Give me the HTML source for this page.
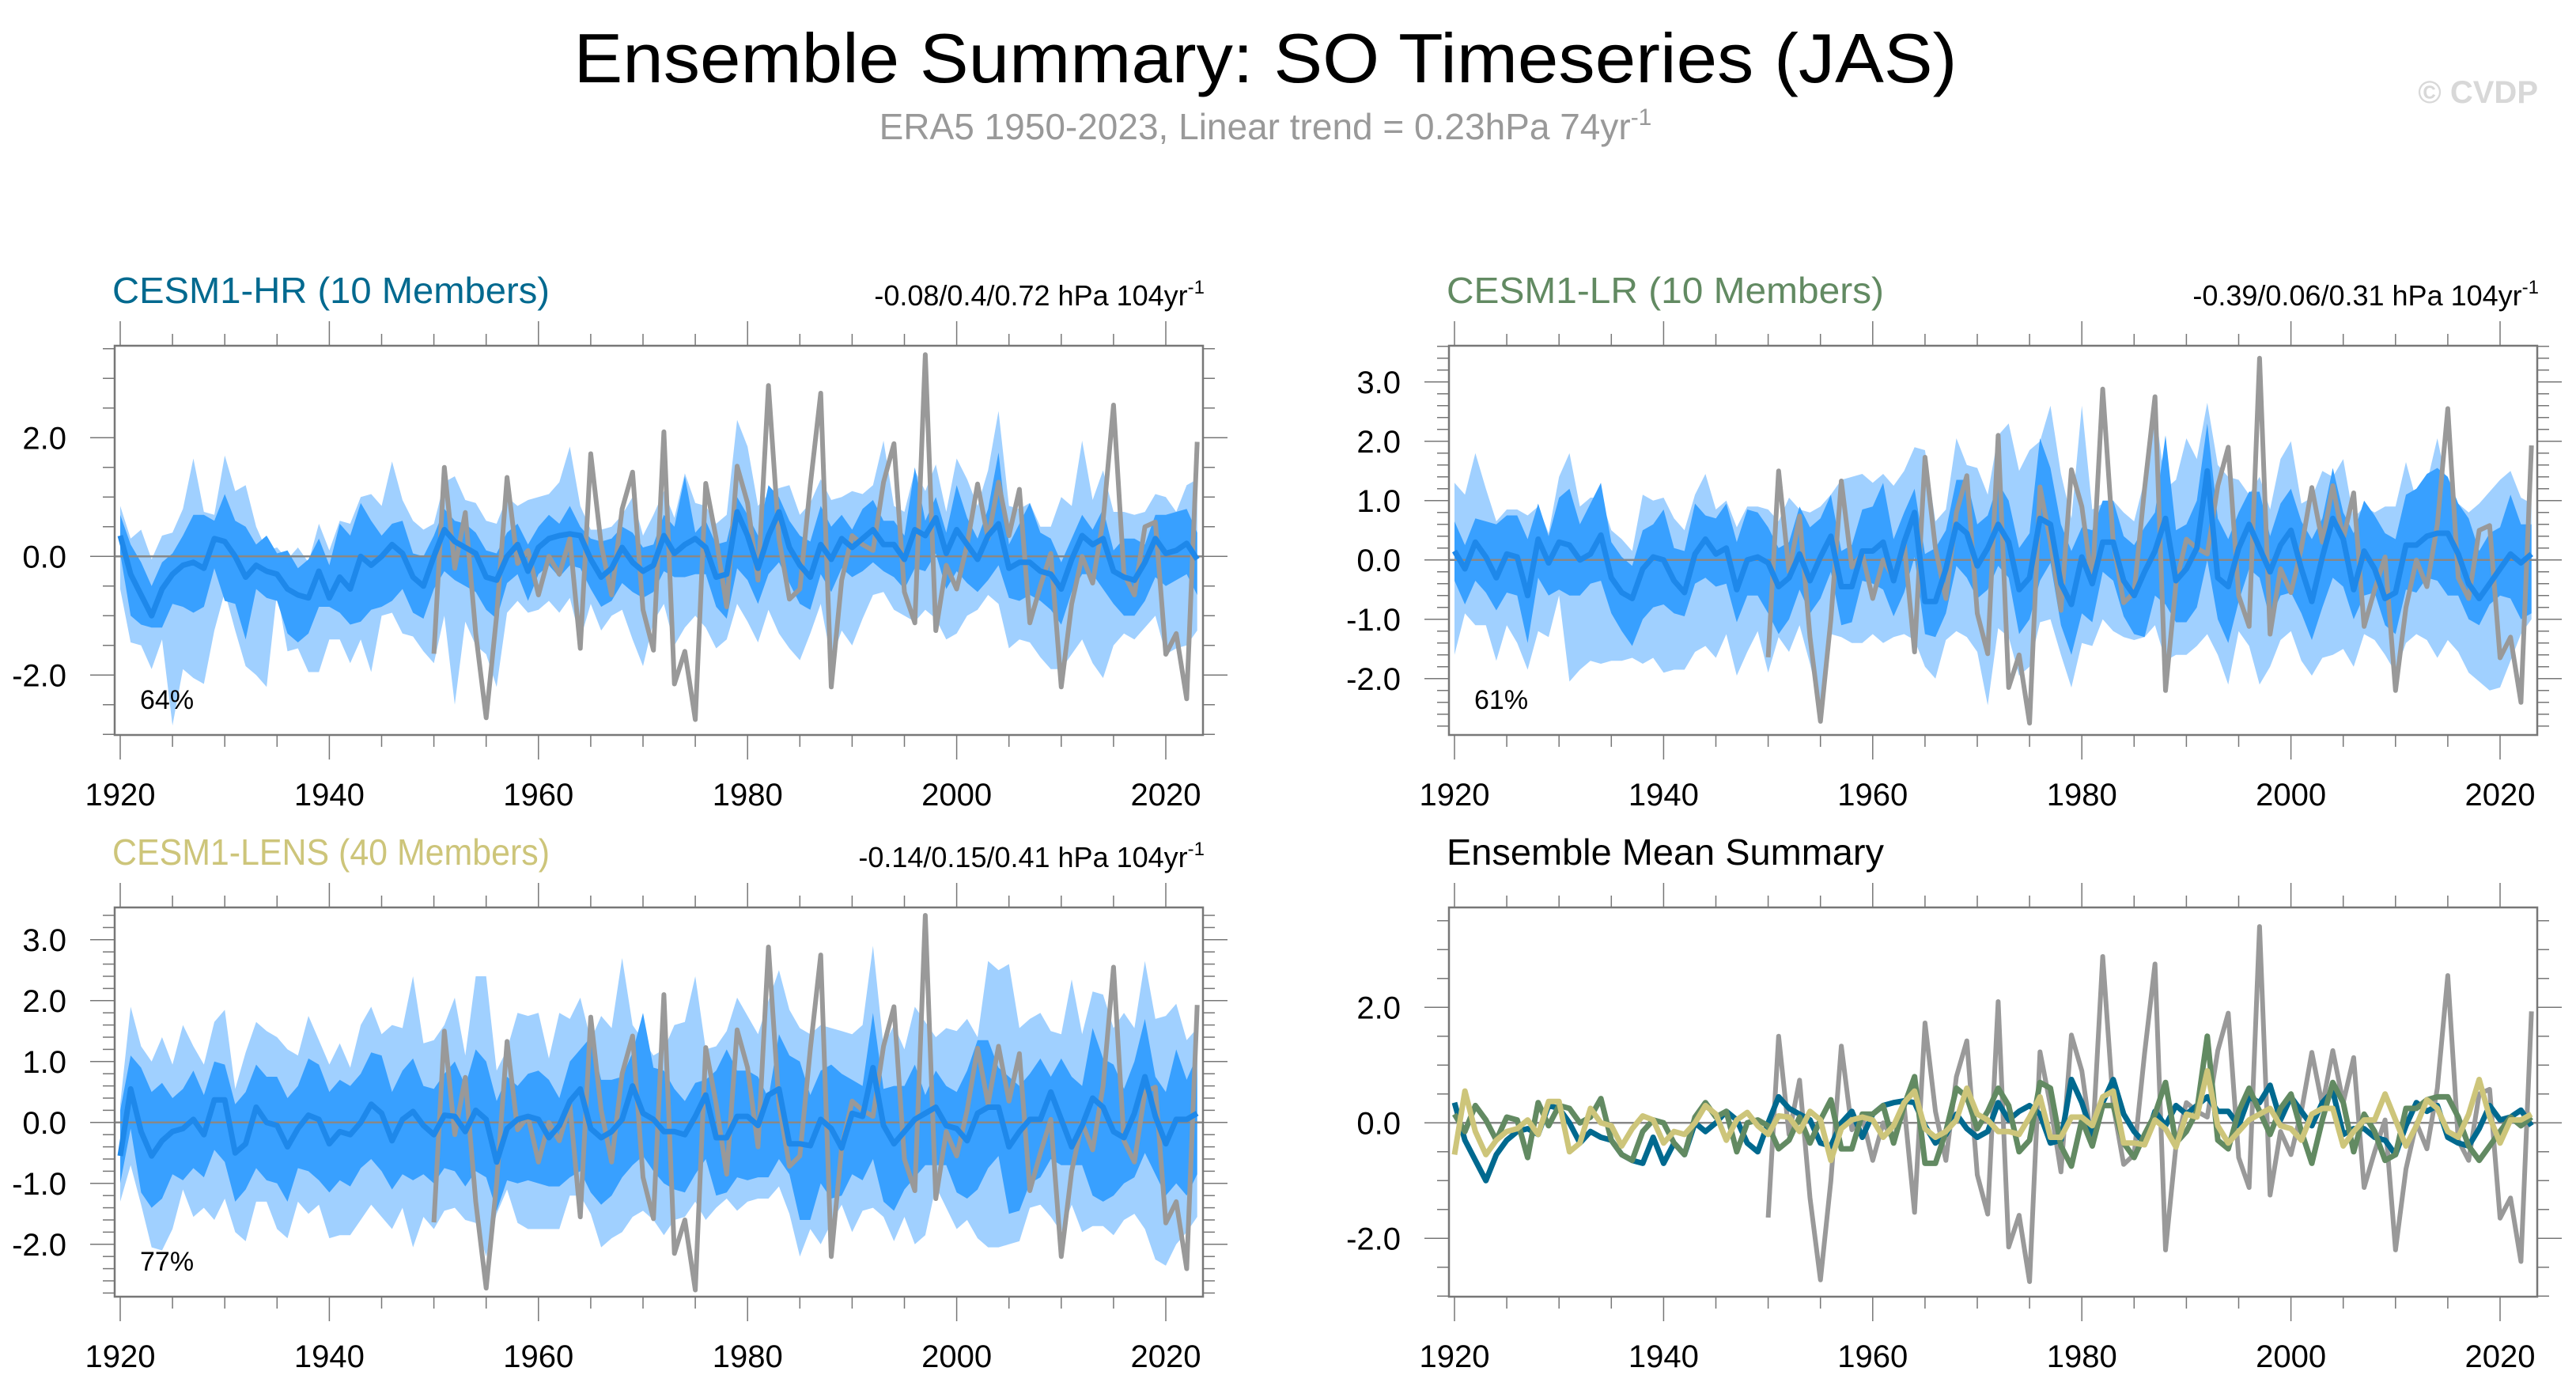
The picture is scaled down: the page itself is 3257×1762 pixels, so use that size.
<!DOCTYPE html>
<html><head><meta charset="utf-8"><style>
html,body{margin:0;padding:0;background:#fff;}
svg{display:block;font-family:"Liberation Sans",sans-serif;}
</style></head><body>
<svg id="chart" width="3257" height="1762" viewBox="0 0 3257 1762" xmlns="http://www.w3.org/2000/svg">
<rect x="0" y="0" width="3257" height="1762" fill="#fff"/>
<text x="1600" y="104" font-size="88" text-anchor="middle" textLength="1749" lengthAdjust="spacingAndGlyphs" fill="#000">Ensemble Summary: SO Timeseries (JAS)</text>
<text x="1600" y="176" font-size="46" text-anchor="middle" fill="#999">ERA5 1950-2023, Linear trend = 0.23hPa 74yr<tspan font-size="30" dy="-18">-1</tspan></text>
<text x="3209" y="130" font-size="40" font-weight="bold" text-anchor="end" fill="#d8d8d8">© CVDP</text>
<g id="panels"></g>
</svg>
<script>
const years = [];
for (let y = 1920; y <= 2023; y++) years.push(y);
const obsYears = [];
for (let y = 1950; y <= 2023; y++) obsYears.push(y);
const era5 = [-1.64,1.5,-0.2,0.74,-1.3,-2.72,-1.0,1.33,-0.12,0.1,
-0.65,0.0,-0.3,0.3,-1.55,1.73,0.2,-0.65,0.8,1.42,
-0.9,-1.58,2.1,-2.15,-1.6,-2.75,1.23,0.3,-0.85,1.52,
0.9,-0.4,2.88,0.3,-0.72,-0.55,1.2,2.75,-2.2,-0.4,
0.35,0.2,0.1,1.25,1.9,-0.6,-1.12,3.4,-1.25,-0.15,
-0.55,0.2,1.22,0.3,1.25,0.35,1.13,-1.12,-0.5,0.05,
-2.2,-0.8,0.0,-0.45,0.6,2.55,-0.3,-0.65,0.5,0.58,
-1.65,-1.3,-2.4,1.93];
const hrMean = [0.35,-0.3,-0.65,-1.0,-0.55,-0.3,-0.15,-0.1,-0.2,0.3,
0.25,0.0,-0.35,-0.15,-0.25,-0.3,-0.55,-0.65,-0.7,-0.25,
-0.7,-0.35,-0.55,0.0,-0.15,0.0,0.2,0.05,-0.35,-0.5,
0.0,0.45,0.25,0.15,0.05,-0.35,-0.4,0.0,0.2,-0.25,
0.15,0.3,0.35,0.38,0.35,-0.05,-0.35,-0.2,0.15,-0.1,
-0.25,-0.15,0.35,0.05,0.2,0.3,0.15,-0.35,-0.3,0.75,
0.35,-0.2,0.35,0.75,0.15,-0.15,-0.35,0.2,-0.05,0.3,
0.15,0.3,0.45,0.2,0.2,-0.05,0.45,0.35,0.65,0.05,
0.45,0.2,-0.05,0.35,0.55,-0.2,-0.1,-0.1,-0.25,-0.3,
-0.55,-0.05,0.35,0.2,0.3,-0.25,-0.35,-0.4,-0.1,0.3,
0.05,0.1,0.22,-0.05];
const hrInnerHi = [0.7,0.2,-0.1,-0.5,-0.1,0.05,0.35,0.7,0.7,0.6,
1.05,0.6,0.5,0.2,0.35,0.05,0.1,-0.2,-0.05,0.3,
-0.15,0.55,0.35,0.9,0.6,0.35,0.55,0.6,0.05,0.0,
0.35,0.8,0.6,0.55,0.4,0.1,0.05,0.4,0.55,0.2,
0.5,0.7,0.55,0.85,0.5,0.3,0.25,0.3,0.5,0.4,
0.15,0.2,0.7,0.5,1.35,0.4,0.6,0.2,0.25,1.0,
0.7,0.35,1.2,1.0,0.6,0.35,0.25,0.85,0.5,0.7,
0.45,0.8,0.95,0.6,0.6,0.35,1.5,0.6,1.0,0.4,
1.2,0.65,0.3,0.8,1.75,0.2,0.55,0.9,0.4,0.3,
-0.1,0.3,0.7,0.45,0.8,0.1,0.3,0.3,0.2,0.7,
0.7,0.75,0.8,0.4];
const hrInnerLo = [0.05,-1.0,-1.15,-1.2,-1.2,-0.8,-0.85,-0.95,-0.85,-0.2,
-0.75,-0.8,-1.4,-0.55,-0.7,-0.75,-1.3,-1.45,-1.3,-0.85,
-0.85,-0.95,-1.15,-1.1,-0.9,-0.85,-0.75,-0.55,-0.95,-1.05,
-0.55,-0.25,-0.4,-0.5,-0.6,-0.9,-1.05,-0.45,-0.3,-0.75,
-0.3,-0.15,-0.35,-0.15,-0.2,-0.55,-0.85,-0.75,-0.45,-0.6,
-0.7,-0.6,-0.25,-0.35,-0.35,-0.3,-0.3,-0.85,-1.05,-0.2,
-0.4,-0.8,-0.3,-0.1,-0.45,-0.8,-0.9,-0.3,-0.6,-0.2,
-0.35,-0.25,-0.1,-0.25,-0.35,-0.55,-0.2,-0.25,0.05,-0.55,
-0.25,-0.45,-0.6,-0.4,-0.15,-0.7,-0.75,-0.65,-0.75,-0.9,
-1.15,-0.6,-0.3,-0.3,-0.55,-0.8,-1.0,-1.0,-0.75,-0.35,
-0.5,-0.4,-0.3,-0.65];
const hrOuterHi = [0.85,0.3,0.45,-0.05,0.35,0.4,0.8,1.65,0.75,0.7,
1.7,1.1,1.2,0.5,0.1,0.15,-0.05,0.15,-0.1,0.55,
0.1,0.6,0.55,1.0,1.05,0.85,1.6,0.95,0.6,0.45,
0.55,1.25,1.35,0.95,0.9,0.6,0.55,1.0,0.85,0.95,
1.0,1.05,1.25,1.85,0.85,0.45,0.45,0.5,0.7,1.0,
0.35,0.7,1.1,0.65,1.4,0.9,0.85,0.55,0.7,2.3,
1.85,0.85,1.05,1.15,1.2,0.7,0.9,1.3,0.95,1.0,
1.1,1.05,1.2,1.95,0.85,0.75,1.45,1.1,1.55,0.75,
1.65,1.3,0.85,1.45,2.45,0.85,0.8,0.9,0.5,0.5,
1.0,0.85,1.95,0.95,1.45,0.75,0.75,0.7,0.75,1.05,
1.0,0.75,1.2,1.3];
const hrOuterLo = [-0.55,-1.45,-1.5,-1.9,-1.4,-2.85,-1.9,-2.05,-2.15,-1.25,
-0.6,-1.25,-1.85,-2.0,-2.2,-0.6,-1.6,-1.55,-1.95,-1.95,
-1.4,-1.4,-1.8,-1.4,-1.95,-1.0,-0.95,-1.3,-1.35,-1.6,
-1.8,-1.0,-2.5,-1.1,-1.5,-1.65,-2.2,-0.95,-0.75,-0.95,
-0.9,-0.75,-0.95,-0.7,-1.4,-0.8,-1.25,-1.0,-0.9,-1.4,
-1.85,-1.1,-0.8,-1.5,-1.2,-1.0,-1.2,-1.55,-1.4,-0.8,
-1.1,-1.45,-0.9,-1.3,-1.55,-1.75,-1.3,-0.8,-1.75,-1.25,
-1.5,-1.05,-0.65,-0.6,-0.9,-1.0,-1.1,-0.9,-1.05,-1.4,
-1.3,-1.0,-0.9,-0.65,-0.8,-1.55,-1.4,-1.45,-1.7,-1.9,
-1.9,-1.65,-1.4,-1.8,-2.05,-1.5,-1.3,-1.4,-1.2,-1.0,
-1.65,-1.55,-1.5,-1.25];
const lrMean = [0.15,-0.15,0.3,0.05,-0.3,0.1,0.05,-0.6,0.35,-0.05,
0.3,0.25,0.0,0.1,0.42,-0.3,-0.55,-0.65,-0.15,0.05,
0.0,-0.35,-0.55,0.1,0.35,0.1,0.2,-0.5,0.0,0.05,
-0.05,-0.45,-0.3,0.1,-0.35,0.05,0.4,-0.45,-0.45,0.15,
0.15,0.3,-0.35,0.3,0.8,-0.7,-0.7,-0.15,0.6,0.45,
-0.1,0.2,0.6,0.3,-0.5,-0.3,0.7,0.6,-0.4,-0.75,
0.05,-0.4,0.3,0.3,-0.35,-0.6,-0.2,0.15,0.7,-0.35,
-0.15,0.2,1.5,-0.3,-0.45,0.2,0.6,0.2,-0.2,0.25,
0.5,-0.15,-0.7,0.05,0.7,0.35,-0.5,0.15,-0.15,-0.65,
-0.55,0.25,0.25,0.4,0.45,0.45,0.1,-0.4,-0.65,-0.4,
-0.15,0.1,-0.05,0.1];
const lrInnerHi = [0.65,0.25,0.7,0.65,0.6,0.75,0.75,0.35,0.95,0.4,
1.05,1.2,0.6,0.95,1.3,0.3,0.05,-0.1,0.5,0.6,
0.85,0.2,0.15,0.95,0.75,0.7,0.95,0.3,0.85,0.8,
0.55,0.2,0.3,0.9,0.55,0.7,1.1,0.15,0.25,0.85,
0.9,1.3,0.35,0.8,1.2,0.1,0.2,0.5,1.35,1.35,
0.6,0.75,1.3,1.0,0.2,0.45,2.05,1.55,0.6,0.15,
0.55,0.5,1.0,1.0,0.4,0.25,0.55,0.8,2.1,0.5,
0.6,1.0,2.3,0.7,0.35,0.8,1.15,1.15,0.4,0.95,
1.2,0.65,0.35,0.7,1.55,0.8,0.45,1.0,0.75,0.45,
0.35,1.1,1.2,1.45,1.55,1.4,0.95,0.7,0.15,0.45,
0.55,1.1,0.6,0.6];
const lrInnerLo = [-0.35,-0.75,-0.35,-0.55,-0.85,-0.55,-0.6,-1.4,-0.3,-0.6,
-0.5,-0.6,-0.6,-0.4,-0.35,-0.9,-1.2,-1.45,-1.0,-0.8,
-0.75,-0.9,-0.95,-0.4,-0.3,-0.45,-0.4,-1.05,-0.6,-0.6,
-0.9,-1.25,-1.0,-0.5,-0.9,-0.65,-0.2,-1.1,-1.05,-0.35,
-0.4,-0.5,-0.95,-0.55,0.05,-1.25,-1.3,-0.9,-0.1,-0.3,
-0.65,-0.5,-0.1,-0.3,-1.25,-1.0,-0.35,-0.05,-1.1,-1.6,
-0.9,-1.05,-0.2,-0.35,-0.95,-1.25,-1.3,-0.6,-0.75,-1.05,
-1.05,-0.8,0.0,-1.0,-1.4,-0.7,-0.15,-0.3,-1.0,-0.6,
-0.55,-0.9,-1.35,-0.8,-0.3,-0.45,-1.0,-0.6,-0.55,-1.1,
-1.25,-0.5,-0.55,-0.3,-0.35,-0.6,-0.6,-1.0,-1.1,-0.75,
-0.6,-0.65,-1.0,-0.9];
const lrOuterHi = [1.3,1.1,1.8,1.2,0.65,0.85,0.85,0.75,0.9,0.45,
1.4,1.8,0.9,1.05,1.05,0.5,0.35,0.15,1.1,1.0,
1.05,0.7,0.5,1.1,1.45,0.85,1.0,0.55,0.9,0.9,
0.85,0.65,1.05,0.85,0.8,0.9,1.1,1.35,1.4,1.45,
1.3,1.45,1.25,1.5,1.9,1.85,0.65,0.85,2.05,1.6,
1.55,1.1,2.1,2.3,1.5,1.85,2.0,2.6,1.45,0.7,
2.6,0.85,0.95,1.0,0.8,0.65,1.35,2.6,1.2,1.35,
2.05,1.7,2.65,1.6,1.4,1.35,1.1,1.4,0.85,1.7,
2.0,0.95,1.05,1.5,1.4,1.7,0.7,0.9,0.8,0.9,
0.9,1.65,1.0,1.3,2.05,1.2,0.95,0.8,0.95,1.15,
1.35,1.5,1.05,0.95];
const lrOuterLo = [-1.6,-0.9,-1.1,-1.1,-1.7,-1.1,-1.4,-1.85,-1.2,-1.3,
-0.6,-2.05,-1.85,-1.7,-1.75,-1.7,-1.7,-1.65,-1.75,-1.65,
-1.9,-1.85,-1.85,-1.55,-1.45,-1.65,-1.25,-1.95,-1.55,-1.2,
-1.9,-1.3,-1.55,-1.1,-1.75,-2.5,-1.25,-1.3,-1.4,-1.4,
-1.25,-1.4,-1.3,-1.25,-1.35,-1.8,-2.0,-1.35,-1.2,-1.3,
-1.55,-2.45,-1.15,-1.3,-1.95,-1.8,-1.05,-1.0,-1.6,-2.15,
-1.4,-1.45,-1.0,-1.2,-1.3,-1.35,-1.3,-1.1,-1.7,-1.6,
-1.6,-1.45,-1.25,-1.6,-2.1,-1.2,-1.45,-2.1,-1.8,-1.35,
-1.2,-1.7,-1.95,-1.65,-1.6,-1.5,-1.8,-1.25,-1.35,-1.6,
-1.9,-1.4,-1.25,-1.35,-1.65,-1.35,-1.55,-1.9,-2.05,-2.2,
-2.15,-1.7,-1.25,-1.0];
const lensMean = [-0.55,0.55,-0.15,-0.55,-0.3,-0.15,-0.1,0.05,-0.2,0.37,
0.37,-0.5,-0.35,0.25,0.0,-0.05,-0.4,-0.1,0.12,0.05,
-0.35,-0.15,-0.2,0.0,0.3,0.15,-0.3,0.05,0.18,-0.05,
-0.2,0.12,0.1,-0.15,0.2,0.05,-0.65,-0.1,0.05,0.1,
0.05,-0.25,-0.05,0.35,0.55,-0.1,-0.25,-0.15,0.05,0.6,
0.15,0.05,-0.15,-0.15,-0.2,0.1,0.45,-0.25,-0.25,0.1,
0.1,-0.05,0.45,0.55,-0.35,-0.35,-0.38,0.05,-0.1,-0.42,
0.15,0.1,0.9,-0.05,-0.35,-0.15,0.05,0.15,0.25,-0.05,
-0.1,-0.3,0.15,0.25,0.25,-0.4,-0.15,0.05,0.05,0.5,
0.05,-0.4,-0.05,0.4,0.25,-0.15,-0.25,0.15,0.75,0.1,
-0.35,0.05,0.05,0.15];
const lensInnerHi = [0.2,1.1,0.9,0.5,0.65,0.4,0.55,0.85,0.45,1.0,
0.95,0.3,0.5,0.95,0.75,0.75,0.4,0.6,1.05,0.95,
0.5,0.7,0.6,0.8,1.15,1.1,0.5,0.85,1.05,0.6,
0.55,0.8,1.0,0.6,1.2,1.0,0.35,0.75,0.6,0.8,
0.85,0.7,0.4,1.0,1.2,1.4,0.7,0.7,0.75,1.15,
1.8,0.9,0.85,0.55,0.35,0.65,0.7,0.85,1.2,0.85,
0.85,0.75,0.4,1.45,1.1,1.0,0.45,0.85,0.95,0.8,
0.7,0.6,1.8,0.55,0.6,0.6,0.95,0.45,0.85,0.6,
0.5,0.85,1.35,1.35,0.9,0.75,0.6,0.8,1.05,0.75,
1.05,0.75,0.6,1.55,1.05,0.95,0.55,1.0,1.7,0.75,
0.5,1.2,0.7,1.1];
const lensInnerLo = [-1.0,-0.1,-1.15,-1.4,-1.25,-0.85,-0.95,-0.75,-0.9,-0.45,
-0.65,-1.3,-1.1,-0.75,-0.95,-1.0,-1.3,-0.75,-0.8,-0.95,
-1.15,-0.95,-1.05,-0.75,-0.6,-0.8,-1.1,-0.85,-0.95,-0.85,
-1.0,-0.75,-0.8,-1.05,-0.8,-0.9,-1.45,-0.95,-1.0,-0.95,
-1.0,-1.05,-1.05,-0.9,-0.8,-1.15,-1.35,-1.2,-0.9,-0.7,
-0.55,-0.8,-1.0,-1.1,-1.15,-0.85,-0.6,-1.2,-1.15,-0.9,
-0.95,-0.9,-0.9,-0.6,-0.85,-1.6,-1.6,-1.0,-1.25,-1.2,
-0.85,-0.95,-0.6,-1.3,-1.45,-1.1,-0.9,-0.7,-0.7,-0.7,
-1.15,-1.25,-1.1,-0.75,-0.55,-1.5,-1.45,-1.0,-0.9,-0.6,
-0.7,-0.7,-0.7,-1.2,-1.3,-1.2,-1.0,-0.9,-0.5,-0.85,
-1.2,-1.0,-1.2,-0.85];
const lensOuterHi = [0.3,1.9,1.25,1.0,1.4,0.95,1.6,1.25,0.95,1.65,
1.85,0.55,1.15,1.65,1.5,1.4,1.2,1.1,1.75,1.35,
0.95,1.3,0.9,1.6,1.9,1.45,1.6,1.55,2.4,1.3,
1.35,1.6,2.05,1.1,2.4,2.4,0.85,1.2,1.8,1.75,
1.8,1.05,1.8,1.7,2.05,1.35,1.75,1.55,2.7,1.6,
1.35,1.1,1.2,1.6,1.65,2.4,1.2,1.25,1.5,2.05,
1.75,1.45,2.0,2.5,1.85,1.55,1.45,1.6,1.55,1.5,
1.45,1.6,2.9,1.25,1.6,1.2,1.9,1.65,1.4,1.55,
1.5,1.7,1.4,2.65,2.5,2.6,1.55,1.7,1.8,1.5,
1.45,2.35,1.45,2.15,2.1,1.55,1.8,1.55,2.65,1.7,
1.75,1.95,1.35,1.55];
const lensOuterLo = [-1.3,-0.7,-1.35,-2.05,-2.1,-1.75,-1.1,-1.55,-1.4,-1.6,
-1.25,-1.8,-1.95,-1.3,-1.3,-1.75,-1.9,-1.3,-1.5,-1.35,
-1.9,-1.85,-1.85,-1.6,-1.35,-1.55,-1.75,-1.4,-2.05,-1.55,
-1.75,-1.45,-1.4,-1.6,-1.65,-2.2,-1.5,-1.1,-1.65,-1.75,
-1.75,-1.75,-1.75,-1.2,-1.2,-1.5,-2.05,-1.9,-1.8,-1.55,
-1.45,-1.6,-1.85,-1.6,-1.55,-1.3,-1.6,-1.4,-1.25,-1.45,
-1.3,-1.25,-1.25,-1.05,-1.5,-2.2,-1.75,-2.0,-1.65,-1.35,
-1.8,-1.45,-1.4,-1.55,-1.95,-1.55,-2.0,-1.85,-1.05,-1.4,
-1.75,-1.6,-1.9,-2.05,-2.05,-2.0,-1.95,-1.4,-1.35,-1.55,
-1.8,-1.35,-1.8,-1.7,-1.7,-1.85,-1.6,-1.5,-1.75,-2.25,
-2.35,-2.0,-1.8,-1.55];
const xTickYears = [1920,1940,1960,1980,2000,2020];
const xTickLabels = ["1920","1940","1960","1980","2000","2020"];

const NS = "http://www.w3.org/2000/svg";
const root = document.getElementById("panels");
function mk(tag, attrs, parent) {
  const e = document.createElementNS(NS, tag);
  for (const k in attrs) e.setAttribute(k, attrs[k]);
  (parent || root).appendChild(e);
  return e;
}

const panels = [
 {key:"hr", x0:145, x1:1521, y0:437, y1:929, x1920:152, ymin:-3.01, ymax:3.55, labStep:2, minStep:0.5,
  title:"CESM1-HR (10 Members)", tcolor:"#00698f", stat:"-0.08/0.4/0.72 hPa 104yr", pct:"64%",
  mean:hrMean, iHi:hrInnerHi, iLo:hrInnerLo, oHi:hrOuterHi, oLo:hrOuterLo},
 {key:"lr", x0:1832, x1:3208, y0:437, y1:929, x1920:1839, ymin:-2.95, ymax:3.61, labStep:1, minStep:0.2,
  title:"CESM1-LR (10 Members)", tcolor:"#628a62", stat:"-0.39/0.06/0.31 hPa 104yr", pct:"61%",
  mean:lrMean, iHi:lrInnerHi, iLo:lrInnerLo, oHi:lrOuterHi, oLo:lrOuterLo},
 {key:"lens", x0:145, x1:1521, y0:1147, y1:1639, x1920:152, ymin:-2.86, ymax:3.53, labStep:1, minStep:0.2,
  title:"CESM1-LENS (40 Members)", tcolor:"#cdc57a", stat:"-0.14/0.15/0.41 hPa 104yr", pct:"77%",
  mean:lensMean, iHi:lensInnerHi, iLo:lensInnerLo, oHi:lensOuterHi, oLo:lensOuterLo},
 {key:"summary", x0:1832, x1:3208, y0:1147, y1:1639, x1920:1839, ymin:-3.01, ymax:3.73, labStep:2, minStep:0.5,
  title:"Ensemble Mean Summary", tcolor:"#000", summary:true}
];

panels.forEach(p => {
  const g = mk("g", {});
  
  
  const yrToX = yr => p.x1920 + (yr - 1920) * 13.22;
  const vToY = v => p.y1 - (v - p.ymin) * (p.y1 - p.y0) / (p.ymax - p.ymin);
  const clipId = "clip-" + p.key;
  const cp = mk("clipPath", {id: clipId}, g);
  mk("rect", {x:p.x0, y:p.y0, width:p.x1-p.x0, height:p.y1-p.y0}, cp);
  const plot = mk("g", {"clip-path":"url(#" + clipId + ")"}, g);
  
  

  function band(hi, lo, color, name) {
    let d = "";
    hi.forEach((v,i) => { d += (i ? "L" : "M") + yrToX(years[i]).toFixed(1) + "," + vToY(v).toFixed(1); });
    for (let i = lo.length - 1; i >= 0; i--) d += "L" + yrToX(years[i]).toFixed(1) + "," + vToY(lo[i]).toFixed(1);
    const e = mk("path", {d: d + "Z", fill: color, stroke: "none"}, plot);
    
    
  }
  function line(xs, vals, color, w, name) {
    const pts = vals.map((v,i) => yrToX(xs[i]).toFixed(1) + "," + vToY(v).toFixed(1)).join(" ");
    const e = mk("polyline", {points: pts, fill: "none", stroke: color, "stroke-width": w, "stroke-linejoin": "round"}, plot);
    
    
  }
  if (!p.summary) {
    band(p.oHi, p.oLo, "#a0d0ff", p.key + "-outer-spread-band");
    band(p.iHi, p.iLo, "#38a0ff", p.key + "-inner-spread-band");
  }
  const zl = mk("line", {x1:p.x0, x2:p.x1, y1:vToY(0), y2:vToY(0), stroke:"#888", "stroke-width":2.5}, plot);
  
  
  line(obsYears, era5, "#999", 6, "era5-observed-line");
  if (!p.summary) {
    line(years, p.mean, "#1e88ea", 7, p.key + "-ensemble-mean-line");
  } else {
    line(years, hrMean, "#00698f", 7, "hr-ensemble-mean-line");
    line(years, lrMean, "#628a62", 7, "lr-ensemble-mean-line");
    line(years, lensMean, "#cdc57a", 7, "lens-ensemble-mean-line");
  }
  const fr = mk("rect", {x:p.x0, y:p.y0, width:p.x1-p.x0, height:p.y1-p.y0, fill:"none", stroke:"#777", "stroke-width":2.5}, g);
  
  
  const xt = mk("g", {stroke:"#777", "stroke-width":1.5}, g);
  
  
  for (let yr = 1920; yr <= 2020; yr += 5) {
    const x = yrToX(yr), len = (yr % 20 === 0) ? 31 : 15;
    mk("line", {x1:x, x2:x, y1:p.y0, y2:p.y0 - len}, xt);
    mk("line", {x1:x, x2:x, y1:p.y1, y2:p.y1 + len}, xt);
  }
  xTickYears.forEach((yr,i) => {
    const t = mk("text", {x: yrToX(yr), y: p.y1 + 89, "font-size": 40, "text-anchor": "middle", fill: "#000"}, g);
    t.textContent = xTickLabels[i];
    
    
  });
  const yt = mk("g", {stroke:"#777", "stroke-width":1.5}, g);
  
  
  const n0 = Math.ceil(p.ymin / p.minStep - 1e-6), n1 = Math.floor(p.ymax / p.minStep + 1e-6);
  for (let n = n0; n <= n1; n++) {
    const v = n * p.minStep, y = vToY(v);
    const major = Math.abs(v / p.labStep - Math.round(v / p.labStep)) < 1e-6;
    const len = major ? 31 : 15;
    mk("line", {x1:p.x0, x2:p.x0 - len, y1:y, y2:y}, yt);
    mk("line", {x1:p.x1, x2:p.x1 + len, y1:y, y2:y}, yt);
    if (major) {
      const t = mk("text", {x: p.x0 - 61, y: y + 14, "font-size": 40, "text-anchor": "end", fill: "#000"}, g);
      t.textContent = v.toFixed(1);
      
      
    }
  }
  const tt = mk("text", {x: p.x0 - 3, y: p.y0 - 54, "font-size": 46, fill: p.tcolor, textLength: 553, lengthAdjust: "spacingAndGlyphs"}, g);
  tt.textContent = p.title;
  
  
  if (!p.summary) {
    const st = mk("text", {x: p.x1 + 2, y: p.y0 - 51, "font-size": 36, "text-anchor": "end", fill: "#000"}, g);
    st.textContent = p.stat;
    const sup = mk("tspan", {"font-size": 24, dy: -15}, st);
    sup.textContent = "-1";
    
    
    const pc = mk("text", {x: p.x0 + 32, y: p.y1 - 33, "font-size": 34, fill: "#000"}, g);
    pc.textContent = p.pct;
    
    
  }
});
</script>
</body></html>
